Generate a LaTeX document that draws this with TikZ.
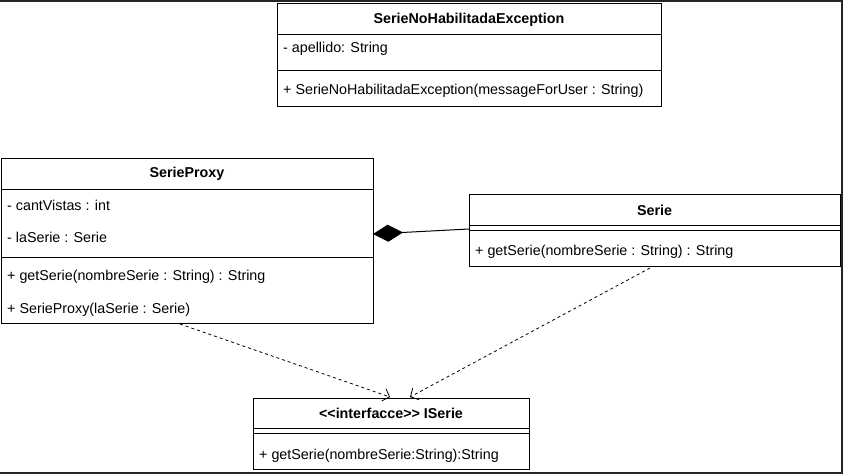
\documentclass[tikz,border=0pt]{standalone}
\usepackage{fontspec}
\setmainfont{Liberation Sans}
\usetikzlibrary{arrows.meta}
\begin{document}
\begin{tikzpicture}[x=1pt,y=-1pt,
  box/.style={draw, line width=1pt, fill=white, inner sep=0pt, outer sep=0pt, anchor=north west},
  sep/.style={line width=1pt},
  ttl/.style={font=\fontsize{14.3pt}{16pt}\selectfont\bfseries, inner sep=0pt},
  mem/.style={font=\fontsize{14.3pt}{16pt}\selectfont, inner sep=0pt, anchor=west},
  dep/.style={line width=0.8pt, dash pattern=on 3pt off 3pt, -{Straight Barb[length=6pt,width=13pt,line width=0.8pt]}},
  comp/.style={line width=1pt, -{Diamond[length=30pt,width=17pt,fill=black]}},
  frame/.style={line width=1.6pt, draw=black!85}
]
\useasboundingbox (0,0) rectangle (843,475);
\draw[frame] (0,0.8) -- (842,0.8) -- (842,473.2) -- (0,473.2);

% SerieNoHabilitadaException
\node[box, minimum width=384pt, minimum height=103pt] (exc) at (277,3) {};
\draw[sep] (exc.west |- 0,34) -- (exc.east |- 0,34);
\draw[sep] (exc.west |- 0,70) -- (exc.east |- 0,70);
\node[ttl] (excT) at (469,19.5) {SerieNoHabilitadaException};
\node[mem] (excA) at (283,49) {- apellido: String};
\node[mem] (excM) at (283,91) {+ SerieNoHabilitadaException(messageForUser : String)};

% SerieProxy
\node[box, minimum width=372pt, minimum height=165pt] (proxy) at (1,158) {};
\draw[sep] (proxy.west |- 0,189) -- (proxy.east |- 0,189);
\draw[sep] (proxy.west |- 0,257) -- (proxy.east |- 0,257);
\node[ttl] (proxyT) at (187,173.5) {SerieProxy};
\node[mem] (proxyA1) at (7,205) {- cantVistas : int};
\node[mem] (proxyA2) at (7,237) {- laSerie : Serie};
\node[mem] (proxyM1) at (7,277) {+ getSerie(nombreSerie : String) : String};
\node[mem] (proxyM2) at (7,310) {+ SerieProxy(laSerie : Serie)};

% Serie
\node[box, minimum width=371pt, minimum height=72pt] (serie) at (469,194) {};
\draw[sep] (serie.west |- 0,225) -- (serie.east |- 0,225);
\draw[sep] (serie.west |- 0,230) -- (serie.east |- 0,230);
\node[ttl] (serieT) at (654.5,210.5) {Serie};
\node[mem] (serieM) at (475,252) {+ getSerie(nombreSerie : String) : String};

% ISerie
\node[box, minimum width=276pt, minimum height=71pt] (iserie) at (253,398) {};
\draw[sep] (iserie.west |- 0,428) -- (iserie.east |- 0,428);
\draw[sep] (iserie.west |- 0,433) -- (iserie.east |- 0,433);
\node[ttl] (iserieT) at (391,413.5) {{<}{<}interfacce{>}{>} ISerie};
\node[mem] (iserieM) at (259,456) {+ getSerie(nombreSerie:String):String};

% connectors
\coordinate (pOut) at (180,324);
\coordinate (sOut) at (650,268);
\coordinate (iIn1) at (390,397);
\coordinate (iIn2) at (410,397);
\draw[comp] (serie.west |- 0,229) -- (proxy.east |- 0,234);
\draw[dep] (pOut) -- (iIn1);
\draw[dep] (sOut) -- (iIn2);
\end{tikzpicture}
\end{document}
